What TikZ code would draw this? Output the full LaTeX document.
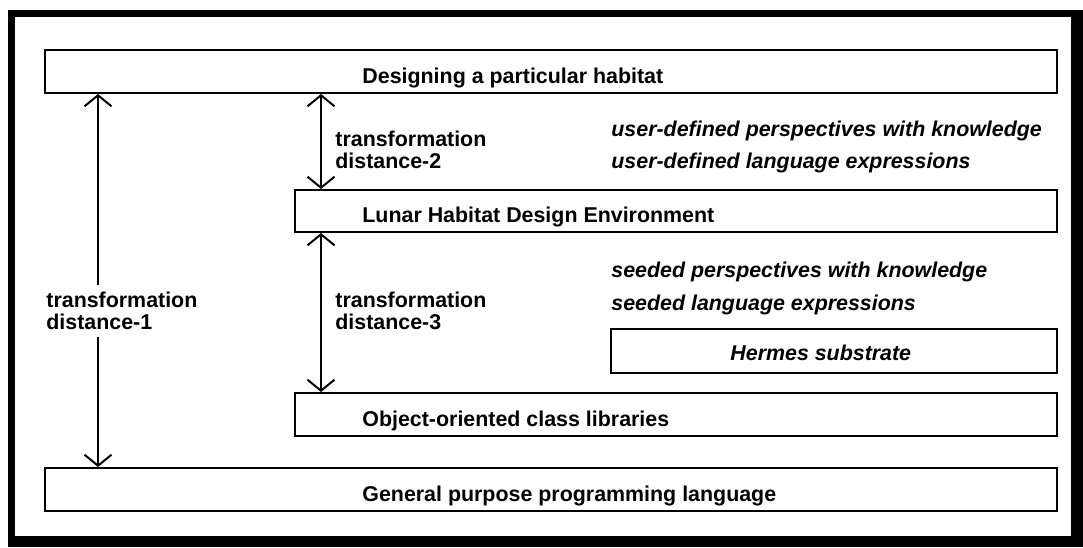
\documentclass[tikz,border=0pt]{standalone}
\usepackage{fontspec}
\setmainfont{Liberation Sans}
\usetikzlibrary{positioning,arrows.meta,calc}
\tikzset{
  layer/.style={draw=black, line width=1pt, rectangle, inner sep=0pt},
  caption/.style={anchor=base west, inner sep=0pt, font=\fontsize{10.7}{12}\selectfont\bfseries},
  note/.style={caption, font=\fontsize{10.7}{12}\selectfont\bfseries\itshape},
  distlabel/.style={anchor=west, align=left, inner sep=0pt, font=\fontsize{10.7}{10.75}\selectfont\bfseries},
  twoway/.style={line width=1pt, {Straight Barb[length=5.5pt,width=13.5pt]}-{Straight Barb[length=5.5pt,width=13.5pt]}}
}

\begin{document}
\begin{tikzpicture}[x=0.5pt, y=-0.5pt]
    \useasboundingbox (0,0) rectangle (1083,547);
    % frame with shadow
    \fill[black] (8,10) rectangle (1083,547);
    \fill[white] (15,17) rectangle (1071,536);

    % layers
    \node[layer, minimum width=506pt, minimum height=21.5pt] (habitat) at (551,71.5) {};
    \node[layer, minimum width=381pt, minimum height=21pt]   (lunar)   at (676,211) {};
    \node[layer, minimum width=223pt, minimum height=22pt]   (hermes)  at (834,351) {};
    \node[layer, minimum width=381pt, minimum height=21.5pt] (oolib)   at (676,414.5) {};
    \node[layer, minimum width=506pt, minimum height=21.5pt] (general) at (551,489.5) {};

    \node[caption] (habitattxt) at (362,83)  {Designing a particular habitat};
    \node[caption] (lunartxt)   at (362,222) {Lunar Habitat Design Environment};
    \node[note]    (hermestxt)  at (730,360) {Hermes substrate};
    \node[caption] (oolibtxt)   at (362,426) {Object-oriented class libraries};
    \node[caption] (generaltxt) at (362,501) {General purpose programming language};

    % perspectives and expressions
    \node[note] (userpersp) at (611,136) {user-defined perspectives with knowledge};
    \node[note] (userexpr)  at (611,168) {user-defined language expressions};
    \node[note] (seedpersp) at (611,277) {seeded perspectives with knowledge};
    \node[note] (seedexpr)  at (611,310) {seeded language expressions};

    % transformation distances
    \coordinate (leftx) at ($(habitat.south west)+(54,0)$);
    \coordinate (midx)  at ($(lunar.north west)+(27,0)$);
    \draw[twoway] (leftx) -- (general.north -| leftx);
    \draw[twoway] (midx |- habitat.south) -- (midx);
    \draw[twoway] (lunar.south -| midx) -- (oolib.north -| midx);

    \node[distlabel, fill=white, inner sep=3.5pt] (dist1) at (39,311) {transformation\\distance-1};
    \node[distlabel] (dist2) at (335,150) {transformation\\distance-2};
    \node[distlabel] (dist3) at (335,311) {transformation\\distance-3};
\end{tikzpicture}
\end{document}
